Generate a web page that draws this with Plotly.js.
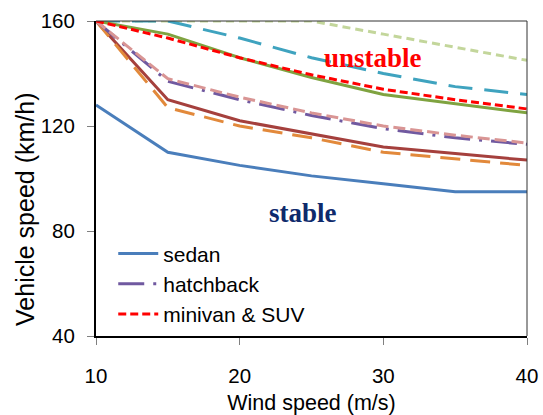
<!DOCTYPE html>
<html>
<head>
<meta charset="utf-8">
<script src="https://cdn.plot.ly/plotly-3.0.1.min.js"></script>
<style>html,body{margin:0;padding:0;background:#fff;}#chart{width:543px;height:415px;}</style>
</head>
<body>
<div id="chart"></div>
<script>
const windSpeed = [10, 15, 20, 25, 30, 35, 40];
const sedan      = [128, 110, 105, 101, 98, 95, 95];
const darkRed    = [160, 130, 122, 117, 112, 109.5, 107];
const orange     = [160, 127, 120, 115.5, 110, 107.5, 105];
const hatchback  = [160, 137, 130, 124, 119, 115.5, 113];
const pink       = [160, 138, 131, 125, 120, 116.5, 113.5];
const green      = [160, 155, 146, 138.5, 132, 128.5, 125];
const minivanSUV = [160, 153.5, 146, 139.5, 134, 130, 126.5];
const teal       = [160, 160, 153.5, 146, 140, 135, 132];
const lightGreen = [160, 160, 160, 160, 155, 150, 145];

const seriesNames = ["sedan", "hatchback", "minivan & SUV"];
const regionLabels = ["unstable", "stable"];
const yTitle = "Vehicle speed (km/h)";
const xTitle = "Wind speed (m/s)";

function tr(y, color, dash, name, show) {
  return {
    x: windSpeed, y: y, type: "scatter", mode: "lines",
    name: name || "", showlegend: !!show,
    line: {color: color, width: 3, dash: dash}
  };
}

const data = [
  tr(lightGreen, "#C3D69B", "8px,5px"),
  tr(teal, "#3FA3BF", "24px,12px"),
  tr(green, "#7FA340", "solid"),
  tr(darkRed, "#A5403D", "solid"),
  tr(orange, "#E2893B", "20px,10px"),
  tr(sedan, "#4A7EBB", "solid", seriesNames[0], true),
  tr(hatchback, "#7059A0", "26px,9px,3px,9px", seriesNames[1], true),
  tr(pink, "#D99594", "12px,5px"),
  tr(minivanSUV, "#FF0000", "8px,4px", seriesNames[2], true)
];

const layout = {
  width: 543, height: 415,
  margin: {l: 96, r: 16, t: 21, b: 79},
  paper_bgcolor: "#fff", plot_bgcolor: "#fff",
  font: {family: "Liberation Sans, Arial, sans-serif", size: 20.5, color: "#000"},
  showlegend: true,
  legend: {x: 0.04, y: 0.326, xanchor: "left", yanchor: "top", bgcolor: "rgba(0,0,0,0)",
           font: {size: 21}, tracegroupgap: 0, itemwidth: 40},
  xaxis: {
    range: [10, 40], tickvals: [10, 20, 30, 40], ticks: "outside", ticklen: 7,
    tickcolor: "#808080", showgrid: false, zeroline: false,
    showline: true, linecolor: "#000", linewidth: 2, ticklabelstandoff: 13,
    title: {text: xTitle, font: {size: 21.5}, standoff: 11}
  },
  yaxis: {
    range: [40, 160], tickvals: [40, 80, 120, 160], ticks: "outside", ticklen: 7,
    tickcolor: "#808080", showgrid: false, zeroline: false,
    showline: true, linecolor: "#000", linewidth: 2, ticklabelstandoff: 8
  },
  shapes: [
    {type: "line", xref: "paper", yref: "paper", x0: 0, x1: 1, y0: 1, y1: 1, line: {color: "#333", width: 1}},
    {type: "line", xref: "paper", yref: "paper", x0: 1, x1: 1, y0: 0, y1: 1, line: {color: "#333", width: 1}}
  ],
  annotations: [
    {x: -0.165, y: 0.403, xref: "paper", yref: "paper", text: yTitle, textangle: -90,
     showarrow: false, xanchor: "center", yanchor: "middle", font: {size: 25}},
    {x: 29.3, y: 145.9, xref: "x", yref: "y", text: "<b>" + regionLabels[0] + "</b>", showarrow: false,
     font: {family: "Liberation Serif, Times New Roman, serif", size: 27, color: "#FF0000"}},
    {x: 24.4, y: 86.9, xref: "x", yref: "y", text: "<b>" + regionLabels[1] + "</b>", showarrow: false,
     font: {family: "Liberation Serif, Times New Roman, serif", size: 27, color: "#0E2A6C"}}
  ]
};

Plotly.newPlot("chart", data, layout, {displayModeBar: false, staticPlot: true});
</script>
</body>
</html>
